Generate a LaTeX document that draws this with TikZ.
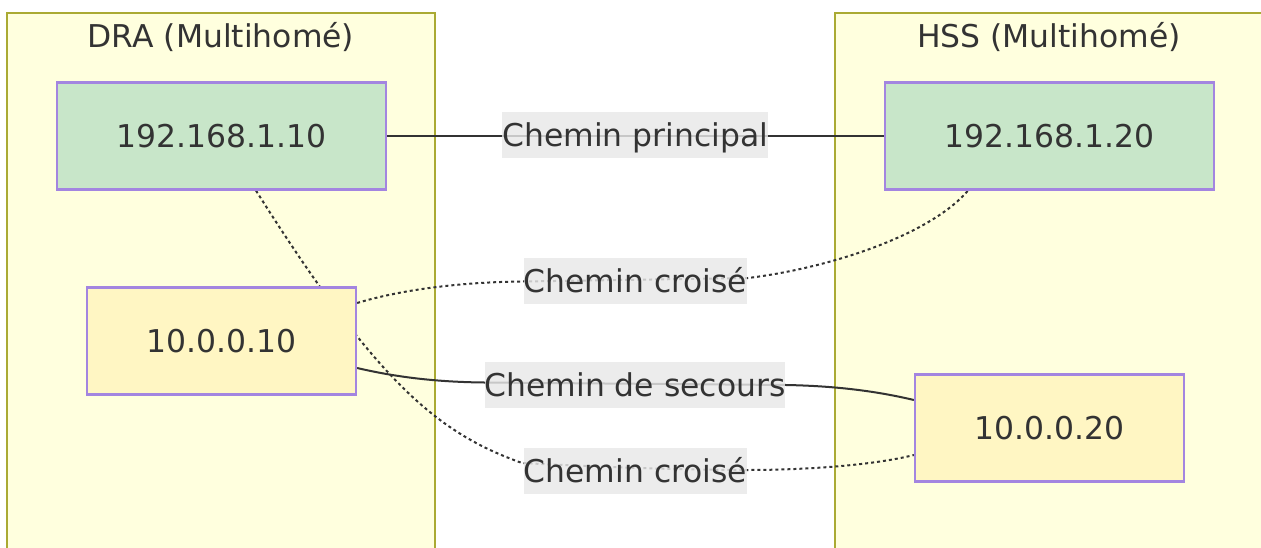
\documentclass[tikz,border=0pt]{standalone}
\usepackage{fontspec}
\setmainfont{DejaVu Sans}
\definecolor{clfill}{HTML}{FFFFDE}
\definecolor{clstroke}{HTML}{AAAA33}
\definecolor{ndstroke}{HTML}{A385E0}
\definecolor{greenfill}{HTML}{C8E6C9}
\definecolor{yellowfill}{HTML}{FFF6C3}
\definecolor{lblfill}{HTML}{E8E8E8}
\definecolor{ink}{HTML}{333333}
\pgfdeclarelayer{background}
\pgfdeclarelayer{edges}
\pgfsetlayers{background,edges,main}
\tikzset{
  cluster/.style={draw=clstroke, fill=clfill, line width=2pt, inner sep=0pt, minimum width=428pt, minimum height=547pt},
  ttl/.style={anchor=base, text=ink, font=\fontsize{31.4pt}{38pt}\selectfont, inner sep=0pt},
  ipnode/.style={draw=ndstroke, line width=2.2pt, inner sep=0pt, minimum height=107pt, text=ink, font=\fontsize{31.4pt}{38pt}\selectfont},
  greennode/.style={ipnode, fill=greenfill, minimum width=329pt},
  yellownode/.style={ipnode, fill=yellowfill, minimum width=269pt},
  lbl/.style={fill=lblfill, fill opacity=0.82, text opacity=1, text=ink, inner xsep=0pt, inner ysep=0pt, minimum height=46pt, text height=30.4pt, text depth=7pt, font=\fontsize{31.4pt}{38pt}\selectfont},
  conn/.style={draw=ink, line width=2pt},
  dotconn/.style={conn, dash pattern=on 3pt off 3pt}
}
\begin{document}
\begin{tikzpicture}[x=1pt, y=-1pt]
\useasboundingbox (0,0) rectangle (1261,548);
\begin{pgfonlayer}{background}
  \node[cluster] (dra) at (221,286.5) {};
  \node[cluster] (hss) at (1049,286.5) {};
\end{pgfonlayer}
\node[ttl] (dratitle) at (221,47.5) {DRA (Multihomé)};
\node[ttl] (hsstitle) at (1049,47.5) {HSS (Multihomé)};

\node[greennode] (A1) at (221.5,136) {192.168.1.10};
\node[yellownode] (A2) at (221.5,341) {10.0.0.10};
\node[greennode] (B1) at (1049.5,136) {192.168.1.20};
\node[yellownode] (B2) at (1049.5,428) {10.0.0.20};

\begin{pgfonlayer}{edges}
  \draw[conn] (A1.east) -- (B1.west);
  \draw[dotconn] ([xshift=34.5pt]A1.south) .. controls (378,384) and (438,433) .. (522,463)
     .. controls (600,467) and (680,470) .. (748,470)
     .. controls (800,470) and (870,466) .. ([yshift=-27pt]B2.west);
  \draw[dotconn] ([yshift=38pt]A2.east) .. controls (400,290) and (460,282) .. (523,281.5)
     -- (748,278) .. controls (830,268) and (930,235) .. ([xshift=-81.5pt]B1.south);
  \draw[conn] ([yshift=-27pt]A2.east) .. controls (400,378) and (440,382) .. (484,382.5)
     -- (786,385) .. controls (840,386) and (880,392) .. ([yshift=28pt]B2.west);
\end{pgfonlayer}

\node[lbl] (Lprin) at (635.3,135) {Chemin principal};
\node[lbl] (Lcr1) at (635.5,281) {Chemin croisé};
\node[lbl] (Lsec) at (635,384.5) {Chemin de secours};
\node[lbl] (Lcr2) at (635.5,471) {Chemin croisé};
\end{tikzpicture}
\end{document}
